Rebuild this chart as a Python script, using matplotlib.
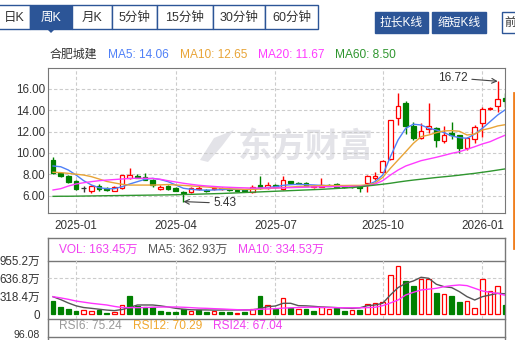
import matplotlib
matplotlib.use('Agg')
import matplotlib.pyplot as plt
from matplotlib.patches import Rectangle, Polygon
import numpy as np

plt.rcParams['font.family'] = ['Liberation Sans', 'Noto Sans CJK SC', 'DejaVu Sans']

W, H = 515, 340

# weekly K line, 60 weeks
opens = [9.33, 8.14, 7.83, 7.39, 6.73, 6.45, 6.89, 6.70, 6.45, 6.68,
         7.62, 7.83, 7.71, 7.46, 6.61, 6.89, 6.70, 6.30, 6.30, 6.58,
         6.50, 6.58, 6.62, 6.62, 6.55, 6.50, 6.30, 6.99, 6.68, 6.99,
         6.58, 7.36, 7.18, 7.15, 6.77, 6.83, 7.00, 7.05, 6.85, 6.85,
         6.85, 7.15, 7.67, 8.23, 9.40, 13.25, 14.66, 12.53, 11.37, 12.27,
         12.31, 11.15, 11.90, 11.68, 10.43, 11.28, 12.78, 14.09, 14.40, 15.13]
closes = [8.14, 7.83, 7.30, 6.58, 6.73, 6.89, 6.58, 6.49, 6.77, 7.90,
          7.92, 7.67, 7.46, 6.99, 6.80, 6.58, 6.45, 6.22, 6.68, 6.73,
          6.38, 6.73, 6.70, 6.52, 6.45, 6.45, 6.83, 6.68, 6.96, 6.77,
          7.46, 7.15, 7.12, 6.89, 6.89, 6.99, 6.90, 6.83, 6.80, 6.80,
          6.75, 7.83, 7.83, 9.24, 13.09, 14.40, 12.53, 11.37, 12.08, 12.53,
          11.21, 11.68, 11.70, 10.43, 11.43, 12.46, 14.09, 14.19, 15.03, 14.90]
highs = [9.62, 8.14, 7.92, 7.46, 6.89, 6.99, 7.08, 6.80, 6.89, 7.92,
         8.55, 7.99, 8.08, 7.55, 7.01, 6.99, 6.80, 6.40, 6.80, 6.85,
         6.60, 6.85, 6.80, 6.70, 6.60, 6.58, 7.00, 7.83, 7.24, 7.10,
         7.83, 7.40, 7.25, 7.30, 6.95, 7.62, 7.05, 7.15, 6.95, 6.90,
         6.90, 7.90, 8.23, 9.30, 13.10, 15.60, 14.90, 12.93, 12.78, 14.66,
         12.46, 12.53, 12.90, 11.70, 11.50, 12.60, 14.34, 14.34, 16.72, 15.60]
lows = [8.05, 7.76, 7.15, 6.52, 6.36, 6.23, 6.45, 6.42, 6.38, 6.61,
        7.52, 7.60, 7.41, 6.77, 6.56, 6.52, 6.38, 5.43, 6.23, 6.52,
        6.30, 6.50, 6.55, 6.45, 6.38, 6.40, 6.25, 6.60, 6.60, 6.70,
        6.50, 7.10, 7.05, 6.85, 6.70, 6.80, 6.85, 6.70, 6.75, 6.75,
        6.30, 6.36, 7.45, 8.10, 9.30, 12.62, 11.77, 11.21, 11.30, 11.84,
        10.53, 10.90, 11.30, 10.02, 10.30, 10.90, 11.52, 14.00, 13.87, 14.34]

ma5 = [8.77, 8.70, 8.39, 7.92, 7.39, 6.99, 6.73, 6.64, 6.64, 6.83,
       7.08, 7.30, 7.52, 7.61, 7.50, 7.30, 6.99, 6.68, 6.58, 6.52,
       6.50, 6.52, 6.55, 6.58, 6.58, 6.55, 6.60, 6.68, 6.75, 6.82,
       6.95, 7.02, 7.05, 7.02, 6.99, 6.95, 6.93, 6.92, 6.88, 6.85,
       6.85, 7.00, 7.30, 7.92, 9.64, 11.21, 12.31, 12.69, 12.62, 12.31,
       12.15, 11.90, 11.59, 11.43, 11.37, 11.77, 12.31, 12.93, 13.56, 14.06]
ma10 = [8.18, 8.15, 8.08, 8.00, 7.92, 7.77, 7.55, 7.32, 7.18, 7.05,
        6.98, 6.98, 6.98, 6.98, 7.00, 7.03, 6.99, 6.95, 6.90, 6.85,
        6.80, 6.74, 6.68, 6.63, 6.60, 6.58, 6.58, 6.62, 6.66, 6.70,
        6.75, 6.80, 6.84, 6.88, 6.90, 6.92, 6.93, 6.94, 6.94, 6.95,
        6.95, 7.00, 7.15, 7.70, 8.55, 9.33, 10.11, 10.90, 11.52, 11.68,
        11.90, 12.06, 12.09, 12.03, 11.68, 11.77, 12.15, 12.31, 12.53, 12.65]
ma20 = [6.52, 6.64, 6.89, 7.08, 7.20, 7.30, 7.39, 7.45, 7.50, 7.55,
        7.60, 7.62, 7.62, 7.60, 7.52, 7.39, 7.27, 7.15, 7.05, 6.96,
        6.90, 6.85, 6.80, 6.77, 6.74, 6.72, 6.70, 6.70, 6.70, 6.71,
        6.72, 6.74, 6.76, 6.78, 6.80, 6.82, 6.83, 6.84, 6.85, 6.86,
        6.87, 6.90, 7.08, 7.39, 7.92, 8.39, 8.77, 9.02, 9.27, 9.43,
        9.59, 9.77, 9.96, 10.11, 10.34, 10.58, 10.84, 11.05, 11.37, 11.67]
ma60 = [5.92, 5.93, 5.93, 5.94, 5.95, 5.96, 5.97, 5.98, 5.99, 6.00,
        6.01, 6.02, 6.03, 6.04, 6.05, 6.06, 6.07, 6.09, 6.11, 6.13,
        6.15, 6.17, 6.19, 6.22, 6.25, 6.28, 6.31, 6.34, 6.37, 6.40,
        6.43, 6.46, 6.49, 6.52, 6.55, 6.58, 6.62, 6.66, 6.70, 6.75,
        6.81, 6.90, 6.98, 7.06, 7.15, 7.26, 7.36, 7.45, 7.53, 7.61,
        7.69, 7.76, 7.83, 7.91, 8.00, 8.08, 8.18, 8.28, 8.39, 8.50]

# volume in 万, 1 = red bar
vols = [235, 130, 94, 59, 71, 59, 71, 29, 47, 165,
        330, 153, 136, 130, 65, 47, 41, 94, 65, 82,
        47, 59, 47, 35, 24, 47, 88, 324, 162, 94,
        283, 117, 94, 94, 59, 130, 94, 117, 59, 71,
        82, 177, 200, 224, 695, 849, 589, 501, 625, 625,
        377, 354, 324, 218, 230, 106, 625, 407, 495, 163.45]
vol_up = [0, 0, 0, 0, 1, 1, 0, 0, 1, 1,
          0, 0, 0, 0, 0, 0, 0, 0, 1, 0,
          0, 1, 0, 0, 1, 0, 1, 0, 1, 0,
          1, 0, 1, 0, 0, 1, 1, 0, 0, 1,
          0, 1, 1, 1, 1, 1, 0, 0, 1, 1,
          0, 1, 0, 0, 1, 1, 1, 1, 1, 0]
vol_ma5 = [311, 260, 200, 150, 120, 106, 90, 75, 65, 85,
           120, 165, 165, 165, 150, 130, 106, 90, 80, 78,
           77, 75, 75, 77, 77, 77, 80, 100, 136, 147,
           195, 195, 153, 150, 141, 130, 125, 118, 110, 106,
           115, 153, 165, 195, 342, 472, 548, 590, 655, 637,
           531, 489, 472, 401, 312, 253, 312, 342, 371, 362.93]
vol_ma10 = [311, 290, 265, 235, 215, 195, 180, 165, 140, 120,
            118, 118, 120, 125, 128, 130, 130, 125, 118, 110,
            106, 100, 95, 88, 82, 77, 80, 90, 94, 100,
            110, 115, 120, 125, 125, 122, 120, 118, 116, 115,
            116, 118, 125, 153, 200, 253, 342, 389, 430, 445,
            460, 489, 507, 519, 507, 460, 413, 389, 371, 334.53]

tick_idx = [3, 16, 29, 43, 56]
tick_labels = ['2025-01', '2025-04', '2025-07', '2025-10', '2026-01']
price_ticks = [6, 8, 10, 12, 14, 16]
vol_ticks = [0, 318.4, 636.8, 955.2]
vol_tick_labels = ['0', '318.4万', '636.8万', '955.2万']

tabs = ['日K', '周K', '月K', '5分钟', '15分钟', '30分钟', '60分钟']
tab_edges = [-2, 30, 72, 112, 157, 213, 265, 318]

RED = '#ff0000'
GREEN = '#008000'
BLUE = '#2c5597'
C5, C10, C20, C60 = '#4f80f7', '#e8a437', '#ff3cff', '#2f962f'
GRID = '#cccccc'
FRAME = '#777777'


def box(l, t, r, b):
    return [l / W, 1 - b / H, (r - l) / W, (b - t) / H]


fig = plt.figure(figsize=(W / 100, H / 100), dpi=100)

# ui layer in pixel coordinates
ui = fig.add_axes([0, 0, 1, 1])
ui.set_xlim(0, W)
ui.set_ylim(H, 0)
ui.axis('off')

# period tabs
for k, name in enumerate(tabs):
    x0, x1 = tab_edges[k], tab_edges[k + 1]
    sel = name == '周K'
    ui.add_patch(Rectangle((x0, 5), x1 - x0, 24, facecolor=BLUE if sel else 'white',
                           edgecolor=BLUE, lw=1))
    ui.text((x0 + x1) / 2, 17.5, name, ha='center', va='center', fontsize=9,
            color='white' if sel else '#333333')
ui.add_patch(Polygon([[47, 29], [55, 29], [51, 33]], closed=True, color=BLUE, lw=0))

for name, x0, x1 in [('拉长K线', 375, 428), ('缩短K线', 432, 486)]:
    ui.add_patch(Rectangle((x0, 12), x1 - x0, 21, facecolor=BLUE, edgecolor=BLUE))
    ui.text((x0 + x1) / 2, 22.5, name, ha='center', va='center', fontsize=8.5, color='white')
ui.add_patch(Rectangle((502, 12), 20, 21, facecolor='white', edgecolor=BLUE, lw=1))
ui.text(504, 22.5, '前', ha='left', va='center', fontsize=8.5, color='#333333')

# header of price chart
ui.text(50, 55, '合肥城建', ha='left', va='center', fontsize=8.6, color='#333333')
for txt, xx, c in [(f'MA5: {ma5[-1]:.2f}', 108, C5), (f'MA10: {ma10[-1]:.2f}', 180, C10),
                   (f'MA20: {ma20[-1]:.2f}', 258, C20), (f'MA60: {ma60[-1]:.2f}', 335, C60)]:
    ui.text(xx, 55, txt, ha='left', va='center', fontsize=8.6, color=c)

# right side orange strip
ui.plot([514, 514], [93, 248], color='#f07f1e', lw=2)

# volume / rsi frame
ui.plot([48.3, 48.3], [238, 341], color=FRAME, lw=1)
ui.plot([505, 505], [238, 341], color=FRAME, lw=1)
for yy in [238, 260.5, 318.5, 336.7]:
    ui.plot([48.3, 505], [yy, yy], color=FRAME, lw=1)
ui.text(59, 250, f'VOL: {vols[-1]:.2f}万', ha='left', va='center', fontsize=8.6, color='#f040f0')
ui.text(148, 250, f'MA5: {vol_ma5[-1]:.2f}万', ha='left', va='center', fontsize=8.6, color='#555555')
ui.text(238, 250, f'MA10: {vol_ma10[-1]:.2f}万', ha='left', va='center', fontsize=8.6, color='#f040f0')
ui.text(59, 326, 'RSI6: 75.24', ha='left', va='center', fontsize=8.6, color='#999999')
ui.text(133, 326, 'RSI12: 70.29', ha='left', va='center', fontsize=8.6, color='#f0a830')
ui.text(213, 326, 'RSI24: 67.04', ha='left', va='center', fontsize=8.6, color='#f040f0')
ui.text(40, 339.5, '96.08', ha='right', va='bottom', fontsize=7.6, color='#333333')

# watermark
ui.text(306, 147, '东方财富', ha='center', va='center', fontsize=24.5, fontweight='bold',
        color='#e3e3e8', family=['Noto Sans CJK SC'])
ui.add_patch(Polygon([[200, 160], [214, 138], [234, 130], [222, 146], [208, 162]],
                     closed=True, color='#e3e3e8', lw=0))

# price chart
x = np.arange(len(closes))
o = np.array(opens)
c = np.array(closes)
cols = np.where(c > o, RED, np.where(c < o, GREEN, '#333333'))
faces = np.where(c > o, 'white', cols)

ax = fig.add_axes(box(48.3, 68.3, 505, 213.3))
ax.patch.set_alpha(0)
ax.set_xlim(-0.62, 58.95)
ax.set_ylim(4.33, 17.94)
ax.vlines(x, lows, highs, colors=cols, lw=1, zorder=3)
ax.bar(x, np.abs(c - o), bottom=np.minimum(o, c), width=0.62, color=faces,
       edgecolor=cols, lw=0.9, zorder=4)
ax.plot(x, ma5, color=C5, lw=1, zorder=5)
ax.plot(x, ma10, color=C10, lw=1, zorder=5)
ax.plot(x, ma20, color=C20, lw=1, zorder=5)
ax.plot(x, ma60, color=C60, lw=1, zorder=5)

ax.set_yticks(price_ticks)
ax.set_yticklabels([f'{v:.2f}' for v in price_ticks])
ax.set_xticks(tick_idx)
ax.set_xticklabels(tick_labels)
ax.tick_params(length=0, labelsize=8.4, labelcolor='#333333')
ax.tick_params(axis='y', pad=2.4)
ax.tick_params(axis='x', pad=4.5)
ax.grid(True, color=GRID, ls=(0, (3, 2)), lw=0.8)
for s in ax.spines.values():
    s.set_color(FRAME)

imax = int(np.argmax(highs))
imin = int(np.argmin(lows))
ax.annotate(f'{highs[imax]:.2f}', xy=(imax, highs[imax]), xytext=(-30, 3.5),
            textcoords='offset pixels', ha='right', va='center', fontsize=8.6, color='#333333',
            arrowprops=dict(arrowstyle='->', color='#444444', lw=0.8, shrinkA=1, shrinkB=0))
ax.annotate(f'{lows[imin]:.2f}', xy=(imin, lows[imin]), xytext=(30, -1.7),
            textcoords='offset pixels', ha='left', va='center', fontsize=8.6, color='#333333',
            arrowprops=dict(arrowstyle='->', color='#444444', lw=0.8, shrinkA=1, shrinkB=0))

# volume chart
up = np.array(vol_up) == 1
ax2 = fig.add_axes(box(48.3, 260.3, 505, 318.5))
ax2.patch.set_alpha(0)
ax2.set_xlim(-0.62, 58.95)
ax2.set_ylim(-74, 955.2)
ax2.bar(x, vols, width=0.62, color=np.where(up, 'white', GREEN),
        edgecolor=np.where(up, RED, GREEN), lw=0.9, zorder=3)
ax2.plot(x, vol_ma5, color='#555555', lw=1, zorder=4)
ax2.plot(x, vol_ma10, color='#ff33ff', lw=1, zorder=4)
ax2.set_yticks(vol_ticks)
ax2.set_yticklabels(vol_tick_labels)
ax2.set_xticks(tick_idx)
ax2.set_xticklabels([])
ax2.tick_params(length=0, labelsize=8.4, labelcolor='#333333', pad=6)
ax2.grid(True, axis='x', color=GRID, ls=(0, (3, 2)), lw=0.8)
ax2.axhline(vol_ticks[2], color=GRID, ls=(0, (3, 2)), lw=0.8)
for s in ax2.spines.values():
    s.set_visible(False)

fig.savefig('out.png', dpi=100)
